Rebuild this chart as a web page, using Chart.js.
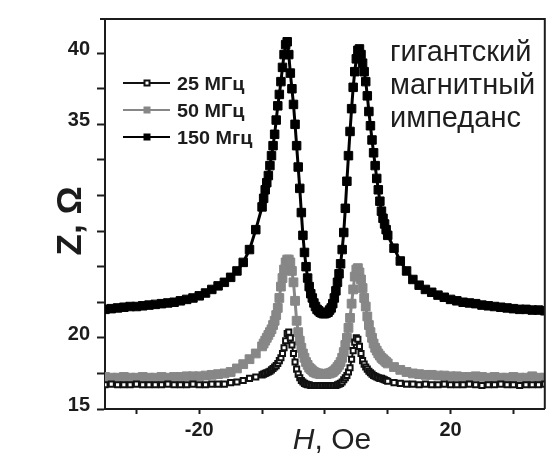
<!DOCTYPE html>
<html>
<head>
<meta charset="utf-8">
<script src="https://cdn.jsdelivr.net/npm/chart.js@4.4.1/dist/chart.umd.min.js"></script>
<style>
  html, body { margin: 0; padding: 0; background: #fff; }
  #wrap { width: 552px; height: 454px; }
</style>
</head>
<body>
<div id="wrap"><canvas id="gmiChart" width="552" height="454"></canvas></div>
<script>
// field values, Oe (1 Oe in the tails, 0.25 Oe around the peaks)
const fieldOe = [
  -36, -35, -34, -33, -32, -31, -30, -29, -28, -27, -26, -25, -24, -23, -22, -21, -20, -19, -18, -17, -16, -15, -14, -13, -12, -11,
  -10, -9.75, -9.5, -9.25, -9, -8.75, -8.5, -8.25, -8, -7.75,
  -7.5, -7.25, -7, -6.75, -6.5, -6.25, -6, -5.75, -5.5, -5.25,
  -5, -4.75, -4.5, -4.25, -4, -3.75, -3.5, -3.25, -3, -2.75,
  -2.5, -2.25, -2, -1.75, -1.5, -1.25, -1, -0.75, -0.5, -0.25,
  0, 0.25, 0.5, 0.75, 1, 1.25, 1.5, 1.75, 2, 2.25,
  2.5, 2.75, 3, 3.25, 3.5, 3.75, 4, 4.25, 4.5, 4.75,
  5, 5.25, 5.5, 5.75, 6, 6.25, 6.5, 6.75, 7, 7.25,
  7.5, 7.75, 8, 8.25, 8.5, 8.75, 9, 9.25, 9.5, 9.75,
  10,
  11, 12, 13, 14, 15, 16, 17, 18, 19, 20, 21, 22, 23, 24, 25, 26, 27, 28, 29, 30, 31, 32, 33, 34, 35, 36
];

// impedance, Ohm
const z25 = [
  16.7, 16.7, 16.75, 16.7, 16.7, 16.7, 16.75, 16.7, 16.7, 16.7, 16.7, 16.75, 16.7, 16.7, 16.7, 16.75, 16.7, 16.7, 16.75, 16.75, 16.75, 16.85, 16.9, 17.0, 17.15, 17.25,
  17.4, 17.45, 17.5, 17.55, 17.6, 17.65, 17.75, 17.85, 17.95, 18.05,
  18.2, 18.4, 18.6, 18.9, 19.3, 19.8, 20.3, 20.4, 20.0, 19.5,
  18.9, 18.3, 17.8, 17.45, 17.2, 17.0, 16.9, 16.8, 16.75, 16.7,
  16.7, 16.65, 16.65, 16.65, 16.65, 16.65, 16.65, 16.65, 16.65, 16.65,
  16.65, 16.65, 16.65, 16.65, 16.65, 16.65, 16.65, 16.65, 16.7, 16.75,
  16.8, 16.9, 17.05, 17.2, 17.35, 17.6, 17.9, 18.5, 19.1, 19.7,
  20.0, 19.9, 19.4, 18.9, 18.4, 18.15, 17.95, 17.8, 17.65, 17.55,
  17.45, 17.35, 17.3, 17.25, 17.2, 17.15, 17.15, 17.1, 17.05, 17.0,
  16.95,
  16.85, 16.8, 16.75, 16.75, 16.7, 16.75, 16.7, 16.7, 16.75, 16.7, 16.7, 16.7, 16.75, 16.7, 16.65, 16.7, 16.7, 16.75, 16.7, 16.7, 16.65, 16.7, 16.7, 16.7, 16.75, 16.7
];
const z50 = [
  17.2, 17.25, 17.2, 17.2, 17.25, 17.2, 17.2, 17.25, 17.2, 17.2, 17.25, 17.2, 17.25, 17.25, 17.3, 17.3, 17.3, 17.35, 17.4, 17.45, 17.5, 17.6, 17.85, 18.15, 18.5, 18.9,
  19.4, 19.6, 19.8, 20.0, 20.2, 20.4, 20.6, 20.9, 21.2, 21.6,
  22.1, 22.8, 23.6, 24.2, 24.8, 25.3, 25.5, 25.5, 25.3, 24.7,
  23.9, 22.6, 21.2, 20.4, 19.8, 19.3, 18.9, 18.6, 18.3, 18.1,
  17.9, 17.8, 17.7, 17.6, 17.55, 17.5, 17.5, 17.45, 17.45, 17.45,
  17.45, 17.45, 17.5, 17.5, 17.55, 17.6, 17.7, 17.8, 17.95, 18.1,
  18.3, 18.6, 19.0, 19.5, 20.0, 20.7, 21.4, 22.4, 23.4, 24.3,
  24.8, 24.9, 24.6, 24.1, 23.5, 22.8, 22.2, 21.5, 20.9, 20.4,
  20.0, 19.6, 19.3, 19.1, 18.9, 18.75, 18.6, 18.5, 18.4, 18.3,
  18.2,
  17.95, 17.75, 17.6, 17.5, 17.45, 17.4, 17.4, 17.35, 17.35, 17.3, 17.3, 17.25, 17.25, 17.3, 17.25, 17.2, 17.25, 17.2, 17.2, 17.25, 17.2, 17.2, 17.3, 17.2, 17.2, 17.2
];
const z150 = [
  21.95, 22.0, 22.05, 22.1, 22.15, 22.2, 22.2, 22.25, 22.3, 22.35, 22.4, 22.45, 22.5, 22.6, 22.7, 22.8, 22.95, 23.15, 23.4, 23.65, 23.9, 24.25, 24.7, 25.3, 26.2, 27.6,
  29.2, 29.8, 30.4, 30.9, 31.4, 32.1, 32.8, 33.5, 34.3, 35.3,
  36.3, 37.1, 38.0, 39.0, 39.9, 40.6, 40.8, 39.9, 38.6, 37.5,
  36.4, 35.0, 33.5, 32.0, 30.5, 28.8, 27.2, 26.0, 25.0, 24.2,
  23.6, 23.1, 22.8, 22.45, 22.2, 22.0, 21.9, 21.8, 21.75, 21.7,
  21.7, 21.75, 21.8, 21.95, 22.1, 22.4, 22.8, 23.3, 23.9, 24.5,
  25.2, 26.2, 27.4, 29.1, 31.0, 32.8, 34.5, 36.1, 37.6, 38.7,
  39.6, 40.2, 40.3, 39.9, 39.3, 38.7, 38.0, 37.0, 35.9, 34.9,
  33.9, 33.0, 32.1, 31.2, 30.4, 29.6, 28.9, 28.4, 28.0, 27.6,
  27.2,
  26.3, 25.4, 24.7, 24.1, 23.7, 23.4, 23.2, 23.0, 22.85, 22.7, 22.6, 22.5, 22.45, 22.4, 22.3, 22.25, 22.2, 22.15, 22.1, 22.05, 22.0, 22.0, 21.95, 21.95, 21.9, 21.9
];

const seriesLabels = ['25 МГц', '50 МГц', '150 Мгц'];
const noteLines = ['гигантский', 'магнитный', 'импеданс'];

const xTickValues = [-30, -20, -10, 0, 10, 20, 30];
const xTickLabels = [-20, 20];
const yTickValues = [15, 17.5, 20, 22.5, 25, 27.5, 30, 32.5, 35, 37.5, 40];
const yTickLabels = [15, 20, 35, 40];

const ink = '#1c1c1c';
const grey = '#878787';
const sans = '"Liberation Sans", Arial, sans-serif';

function toPoints(values) {
    return fieldOe.map((h, i) => ({ x: h, y: values[i] }));
}

// draws text stretched horizontally
function wideText(ctx, text, x, y, sx) {
    ctx.save();
    ctx.translate(x, y);
    ctx.scale(sx, 1);
    ctx.fillText(text, 0, 0);
    ctx.restore();
}

// frame, legend, note and axis titles
const gmiDecor = {
    id: 'gmiDecor',
    afterDraw(chart) {
        const { ctx, chartArea: a } = chart;
        ctx.save();

        ctx.strokeStyle = ink;
        ctx.lineWidth = 2;
        ctx.beginPath();
        ctx.moveTo(a.left - 5, a.top);
        ctx.lineTo(a.right, a.top);
        ctx.lineTo(a.right, a.bottom);
        ctx.stroke();

        // legend
        chart.data.datasets.forEach((ds, i) => {
            const y = a.top + 64 + i * 27;
            ctx.strokeStyle = ds.borderColor;
            ctx.lineWidth = 2;
            ctx.beginPath();
            ctx.moveTo(a.left + 18, y);
            ctx.lineTo(a.left + 65, y);
            ctx.stroke();
            const mx = a.left + 42;
            ctx.fillStyle = ds.pointBorderColor;
            ctx.fillRect(mx - 3.5, y - 3.5, 7, 7);
            if (ds.pointBackgroundColor !== ds.pointBorderColor) {
                ctx.fillStyle = ds.pointBackgroundColor;
                ctx.fillRect(mx - 1.5, y - 1.5, 3, 3);
            }
            ctx.fillStyle = ink;
            ctx.font = 'bold 18px ' + sans;
            ctx.textAlign = 'left';
            ctx.textBaseline = 'alphabetic';
            wideText(ctx, ds.label, a.left + 72, y + 6.5, 1.1);
        });

        // note in the upper right corner
        ctx.fillStyle = '#1e1e1e';
        ctx.font = '29px ' + sans;
        ctx.textAlign = 'left';
        ctx.textBaseline = 'alphabetic';
        noteLines.forEach((t, i) => ctx.fillText(t, 390, 61 + i * 33));

        // x title: italic H, upright rest
        ctx.fillStyle = '#222';
        ctx.font = 'italic 30px ' + sans;
        const wH = ctx.measureText('H').width;
        ctx.font = '30px ' + sans;
        const wRest = ctx.measureText(', Oe').width;
        const tx = 332 - (wH + wRest) / 2;
        ctx.font = 'italic 30px ' + sans;
        ctx.fillText('H', tx, 449);
        ctx.font = '30px ' + sans;
        ctx.fillText(', Oe', tx + wH, 449);

        // y title
        ctx.save();
        ctx.translate(81, 221);
        ctx.rotate(-Math.PI / 2);
        ctx.fillStyle = ink;
        ctx.font = 'bold 35px ' + sans;
        ctx.textAlign = 'center';
        ctx.fillText('Z, Ω', 0, 0);
        ctx.restore();

        ctx.restore();
    }
};

const tickFont = { family: sans, size: 20, weight: 'bold' };

new Chart(document.getElementById('gmiChart'), {
    type: 'line',
    data: {
        datasets: [
            {
                label: seriesLabels[0],
                data: toPoints(z25),
                borderColor: '#111', borderWidth: 2,
                pointStyle: 'rect', pointRadius: 3.6, pointBorderWidth: 2,
                pointBackgroundColor: '#fff', pointBorderColor: '#111'
            },
            {
                label: seriesLabels[1],
                data: toPoints(z50),
                borderColor: grey, borderWidth: 3,
                pointStyle: 'rect', pointRadius: 6.2, pointBorderWidth: 1,
                pointBackgroundColor: grey, pointBorderColor: grey
            },
            {
                label: seriesLabels[2],
                data: toPoints(z150),
                borderColor: '#000', borderWidth: 3,
                pointStyle: 'rect', pointRadius: 6, pointBorderWidth: 1,
                pointBackgroundColor: '#000', pointBorderColor: '#000'
            }
        ]
    },
    options: {
        responsive: false,
        animation: false,
        devicePixelRatio: 1,
        layout: { padding: { top: 16, right: 4, left: 0, bottom: 0 } },
        plugins: { legend: { display: false }, tooltip: { enabled: false } },
        scales: {
            x: {
                type: 'linear', min: -35, max: 35,
                afterBuildTicks: (s) => { s.ticks = xTickValues.map(v => ({ value: v })); },
                afterFit: (s) => { s.height = 45; },
                grid: { drawOnChartArea: false, tickLength: 5, tickWidth: 2, tickColor: ink },
                border: { color: ink, width: 2 },
                ticks: {
                    color: ink, font: tickFont, padding: 4, maxRotation: 0, autoSkip: false,
                    callback: (v) => xTickLabels.includes(v) ? String(v) : ''
                }
            },
            y: {
                min: 15, max: 42.4,
                afterBuildTicks: (s) => { s.ticks = yTickValues.map(v => ({ value: v })); },
                afterFit: (s) => { s.width = 105; },
                grid: { drawOnChartArea: false, tickLength: 8, tickWidth: 2, tickColor: ink },
                border: { color: ink, width: 2 },
                ticks: {
                    color: ink, font: tickFont, padding: 7, labelOffset: -3.5, autoSkip: false,
                    callback: (v) => yTickLabels.includes(v) ? String(v) : ''
                }
            }
        }
    },
    plugins: [gmiDecor]
});
</script>
</body>
</html>
